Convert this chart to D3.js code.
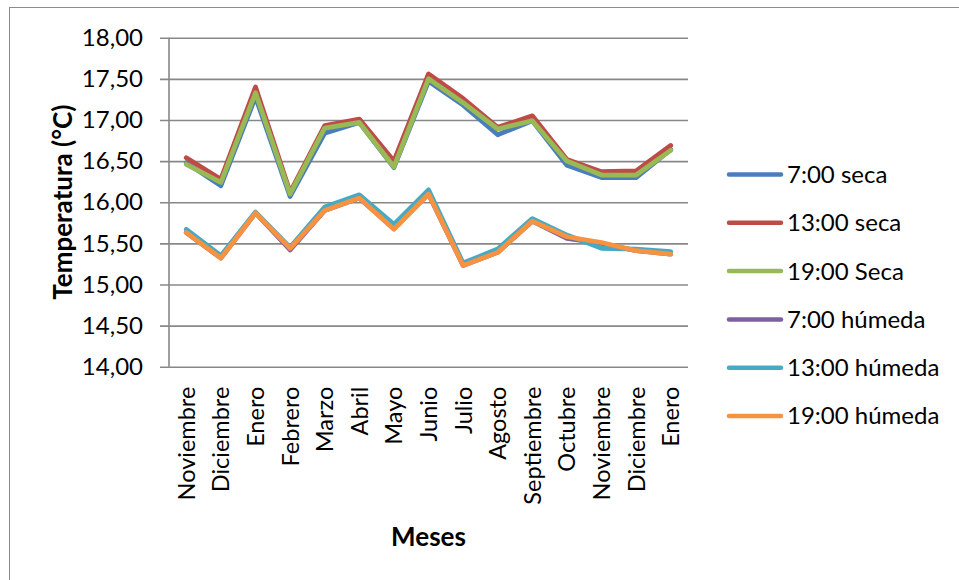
<!DOCTYPE html>
<html>
<head>
<meta charset="utf-8">
<script src="https://cdn.jsdelivr.net/npm/d3@7/dist/d3.min.js"></script>
<style>
  html, body { margin: 0; padding: 0; background: #fff; }
  svg { display: block; }
  text { font-family: Lato, "Open Sans", sans-serif; fill: #000; }
</style>
</head>
<body>
<svg id="chart" width="959" height="580"></svg>
<script>
// Months along the category axis (Nov through the following Jan)
const months = ["Noviembre", "Diciembre", "Enero", "Febrero", "Marzo", "Abril", "Mayo",
  "Junio", "Julio", "Agosto", "Septiembre", "Octubre", "Noviembre", "Diciembre", "Enero"];

// Temperatures (°C), dry-bulb readings
const seca7  = [16.48, 16.20, 17.28, 16.07, 16.84, 16.97, 16.42, 17.47, 17.18, 16.82, 16.99, 16.45, 16.30, 16.30, 16.64];
const seca13 = [16.54, 16.28, 17.40, 16.12, 16.93, 17.01, 16.50, 17.56, 17.26, 16.91, 17.05, 16.52, 16.37, 16.38, 16.69];
const seca19 = [16.46, 16.24, 17.33, 16.10, 16.90, 16.97, 16.43, 17.50, 17.21, 16.89, 16.99, 16.50, 16.33, 16.33, 16.63];
// Temperatures (°C), wet-bulb readings
const humeda7  = [15.63, 15.32, 15.87, 15.42, 15.90, 16.05, 15.68, 16.10, 15.23, 15.39, 15.77, 15.56, 15.50, 15.41, 15.37];
const humeda13 = [15.67, 15.35, 15.88, 15.45, 15.94, 16.09, 15.73, 16.15, 15.26, 15.43, 15.80, 15.60, 15.44, 15.43, 15.40];
const humeda19 = [15.63, 15.32, 15.87, 15.44, 15.90, 16.05, 15.67, 16.10, 15.23, 15.39, 15.77, 15.58, 15.51, 15.41, 15.37];

const seriesNames  = ["7:00 seca", "13:00 seca", "19:00 Seca", "7:00 húmeda", "13:00 húmeda", "19:00 húmeda"];
const seriesColors = ["#4A7EBB", "#BE4B48", "#98B954", "#7D60A0", "#46AAC5", "#F69240"];
const seriesValues = [seca7, seca13, seca19, humeda7, humeda13, humeda19];

const yTicks = [14, 14.5, 15, 15.5, 16, 16.5, 17, 17.5, 18];

const svg = d3.select("#chart");

// Chart frame
svg.append("rect")
  .attr("x", 9.5).attr("y", 7.5)
  .attr("width", 1000).attr("height", 600)
  .attr("fill", "#fff").attr("stroke", "#8a8a8a").attr("stroke-width", 1);

const plot = { left: 169, right: 688, top: 37.7, bottom: 366.7 };

const x = d3.scalePoint()
  .domain(d3.range(months.length))
  .range([plot.left, plot.right])
  .padding(0.5);

const y = d3.scaleLinear()
  .domain([14, 18])
  .range([plot.bottom, plot.top]);

const fmt = v => d3.format(".2f")(v).replace(".", ",");

// Value axis with gridlines
const yAxis = d3.axisLeft(y)
  .tickValues(yTicks)
  .tickFormat(fmt)
  .tickSize(-(plot.right - plot.left))
  .tickPadding(26);

const gy = svg.append("g")
  .attr("transform", `translate(${plot.left},0)`)
  .call(yAxis);
gy.select(".domain").remove();
gy.selectAll(".tick line")
  .attr("x1", -9)
  .attr("stroke", "#888").attr("stroke-width", 1.6);
gy.selectAll(".tick text")
  .attr("font-size", 24)
  .attr("fill", "#000");

// Vertical axis line
svg.append("line")
  .attr("x1", plot.left).attr("x2", plot.left)
  .attr("y1", plot.top).attr("y2", plot.bottom)
  .attr("stroke", "#888").attr("stroke-width", 1.6);

// Category axis labels, rotated
const xAxis = d3.axisBottom(x)
  .tickFormat(i => months[i])
  .tickSize(0)
  .tickPadding(0);
const gx = svg.append("g")
  .attr("transform", `translate(0,${plot.bottom})`)
  .call(xAxis);
gx.select(".domain").remove();
gx.selectAll(".tick text")
  .attr("font-size", 23.5)
  .attr("text-anchor", "end")
  .attr("dy", null)
  .attr("y", 0)
  .attr("transform", "translate(8,20) rotate(-90)");

// Lines
const line = d3.line()
  .x((d, i) => x(i))
  .y(d => y(d));

seriesValues.forEach((vals, k) => {
  svg.append("path")
    .datum(vals)
    .attr("d", line)
    .attr("fill", "none")
    .attr("stroke", seriesColors[k])
    .attr("stroke-width", 4.8)
    .attr("stroke-linejoin", "round")
    .attr("stroke-linecap", "round");
});

// Axis titles
svg.append("text")
  .attr("transform", `translate(72,${(plot.top + plot.bottom) / 2}) rotate(-90)`)
  .attr("text-anchor", "middle")
  .attr("font-size", 26)
  .attr("font-weight", "bold")
  .text("Temperatura (°C)");

svg.append("text")
  .attr("x", (plot.left + plot.right) / 2)
  .attr("y", 546)
  .attr("text-anchor", "middle")
  .attr("font-size", 26)
  .attr("font-weight", "bold")
  .text("Meses");

// Legend
const legend = svg.append("g");
seriesNames.forEach((name, k) => {
  const ly = 174.5 + k * 48.3;
  legend.append("line")
    .attr("x1", 729).attr("x2", 781)
    .attr("y1", ly).attr("y2", ly)
    .attr("stroke", seriesColors[k])
    .attr("stroke-width", 4.5)
    .attr("stroke-linecap", "round");
  legend.append("text")
    .attr("x", 787).attr("y", ly)
    .attr("dy", "0.35em")
    .attr("font-size", 24)
    .text(name);
});
</script>
</body>
</html>
